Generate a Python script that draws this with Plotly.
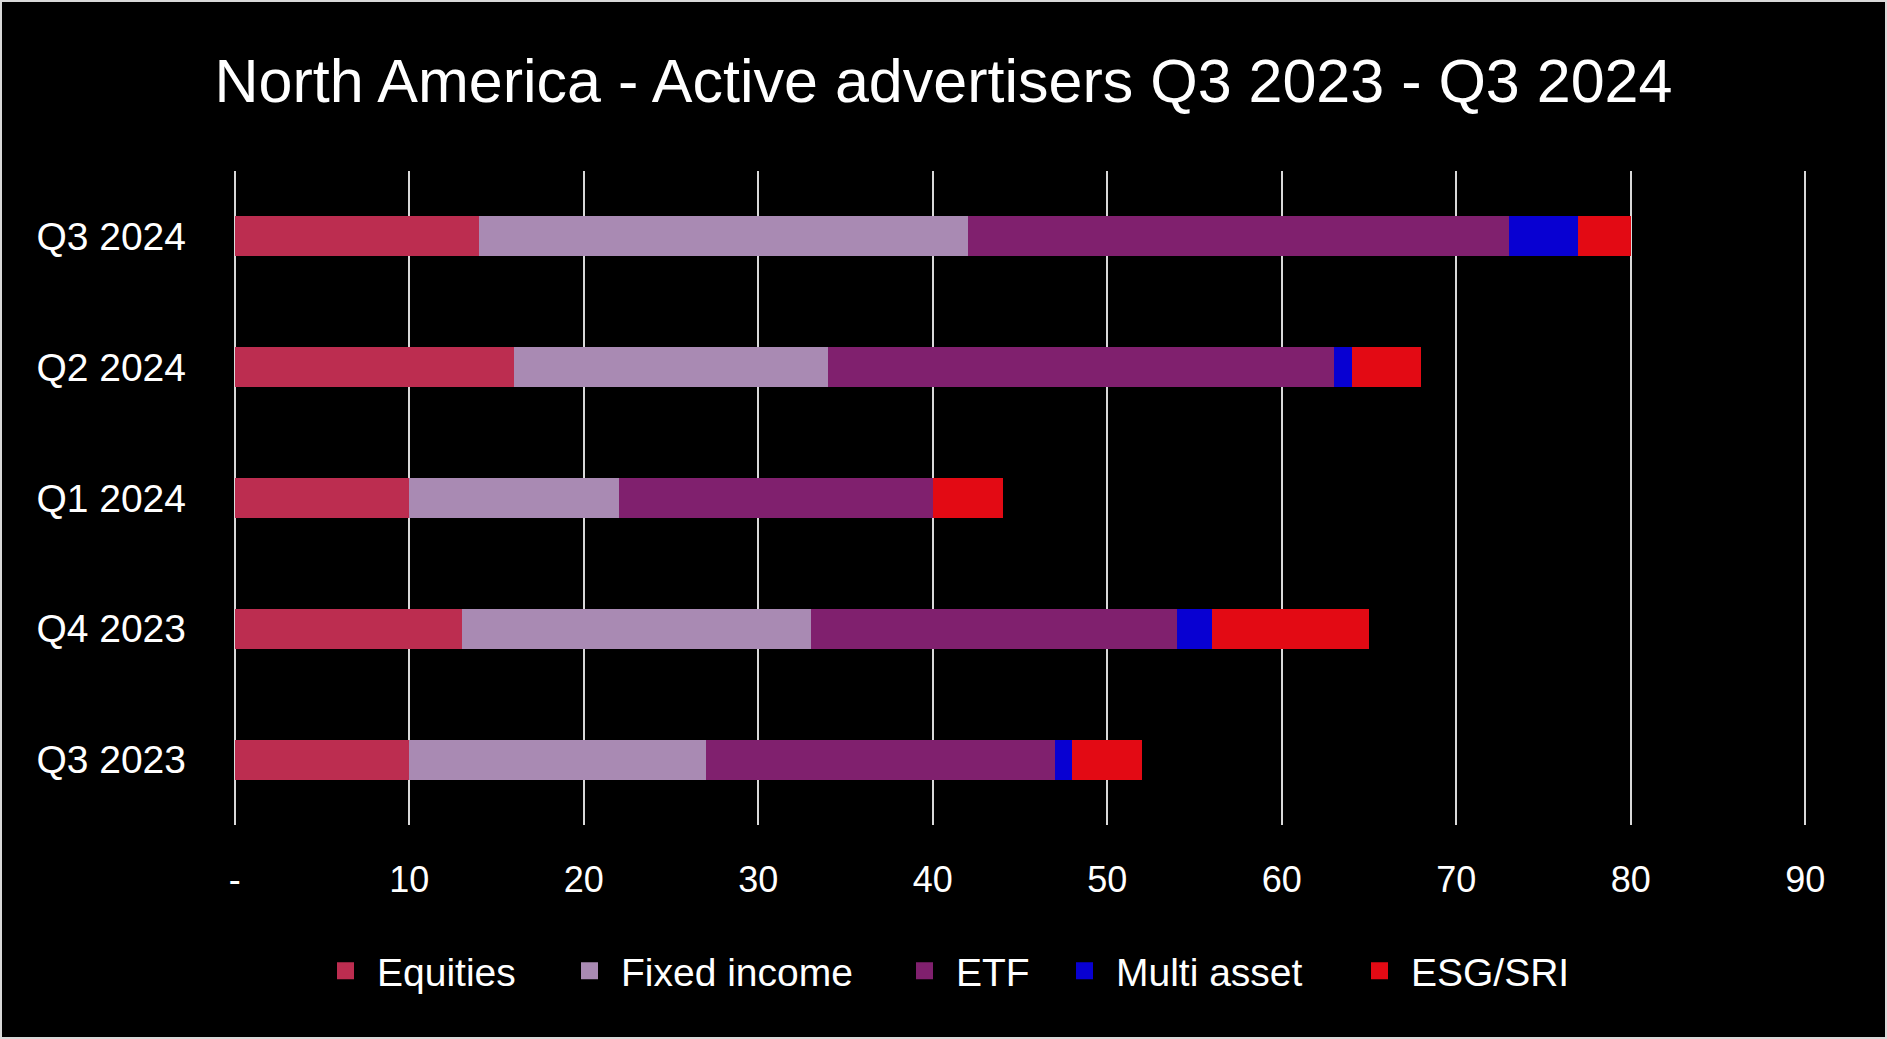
import plotly.graph_objects as go

categories = ["Q3 2023", "Q4 2023", "Q1 2024", "Q2 2024", "Q3 2024"]
equities = [10, 13, 10, 16, 14]
fixed_income = [17, 20, 12, 18, 28]
etf = [20, 21, 18, 29, 31]
multi_asset = [1, 2, 0, 1, 4]
esg_sri = [4, 9, 4, 4, 3]

series_names = ["Equities", "Fixed income", "ETF", "Multi asset", "ESG/SRI"]
series_values = [equities, fixed_income, etf, multi_asset, esg_sri]
colors = ["#BC2D50", "#A98AB3", "#80206E", "#0800D2", "#E30A14"]

x_tickvals = [0, 10, 20, 30, 40, 50, 60, 70, 80, 90]
x_ticktext = ["-", "10", "20", "30", "40", "50", "60", "70", "80", "90"]

FONT = "Liberation Sans, Arial, sans-serif"
W, H = 1887, 1039
ML, MR, MT, MB = 233, 80, 171, 214

# width reserved for each legend entry's text (px), to space entries like the original
legend_entry_widths = {"Equities": 176, "Fixed income": 267, "ETF": 92, "Multi asset": 227, "ESG/SRI": 150}

fig = go.Figure()
for name, vals, col in zip(series_names, series_values, colors):
    fig.add_trace(go.Bar(
        y=categories, x=vals, name=name, orientation="h",
        marker=dict(color=col, line=dict(width=0)),
        showlegend=False, legendgroup=name,
    ))
# legend entries (no data), so the legend squares can be a little larger
for name, col in zip(series_names, colors):
    fig.add_trace(go.Bar(
        y=[None], x=[None], name=name, orientation="h",
        marker=dict(color=col, line=dict(width=5, color=col)),
        showlegend=True, legendgroup=name,
        legendwidth=legend_entry_widths[name],
    ))

fig.update_layout(
    width=W, height=H, autosize=False,
    barmode="stack", bargap=0.695,
    paper_bgcolor="#d9d9d9", plot_bgcolor="black",
    margin=dict(l=ML, r=MR, t=MT, b=MB, pad=0),
    font=dict(family=FONT, color="white", size=37),
    title=dict(
        text="North America - Active advertisers Q3 2023 - Q3 2024",
        font=dict(family=FONT, size=61, color="white"),
        x=0.5, xref="container", xanchor="center",
        y=1 - 81 / H, yref="container", yanchor="middle",
    ),
    legend=dict(
        orientation="h", x=314 / W, xanchor="left", xref="container",
        y=1 - 971 / H, yanchor="middle", yref="container",
        font=dict(family=FONT, size=39, color="white"),
        itemwidth=53, bgcolor="rgba(0,0,0,0)", traceorder="normal",
        itemclick=False, itemdoubleclick=False,
    ),
    xaxis=dict(
        range=[-0.1, 90.1], tickvals=x_tickvals, ticktext=x_ticktext,
        showgrid=True, gridcolor="#d9d9d9", gridwidth=2,
        zeroline=False, showline=False, ticks="",
        tickfont=dict(family=FONT, size=36, color="white"),
        ticklabelstandoff=30, fixedrange=True,
    ),
    yaxis=dict(
        categoryorder="array", categoryarray=categories,
        showgrid=False, zeroline=False, showline=False, ticks="",
        tickfont=dict(family=FONT, size=39, color="white"),
        ticklabelstandoff=46, fixedrange=True,
    ),
    shapes=[dict(
        type="rect", xref="paper", yref="paper", layer="below",
        x0=(2 - ML) / (W - ML - MR), x1=(W - 2 - ML) / (W - ML - MR),
        y0=(H - MB - (H - 2)) / (H - MT - MB), y1=(H - MB - 2) / (H - MT - MB),
        fillcolor="black", line=dict(width=0),
    )],
)

fig.write_html("out.html", config={"displayModeBar": False},
               post_script="document.body.style.margin='0';document.body.style.overflow='hidden';")
